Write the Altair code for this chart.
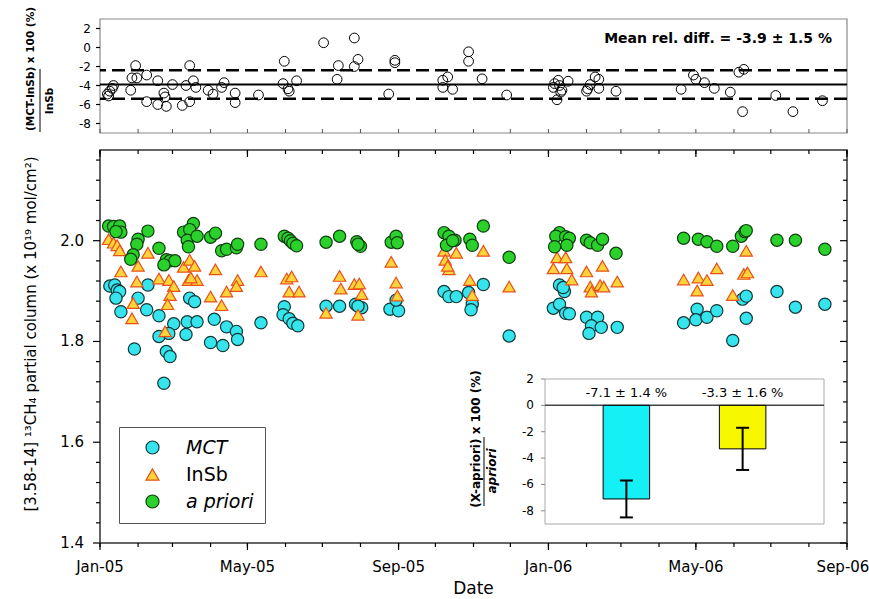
import altair as alt
import pandas as pd

FONT = "DejaVu Sans"

# ---------------- data ----------------
series_names = ["MCT", "InSb", "a priori"]
series_fill = ["#35E4EC", "#FFD43B", "#2BD12B"]
series_stroke = ["#123838", "#E8501A", "#0F3F0F"]
series_shape = ["circle", "triangle-up", "circle"]

mct_dates = ["2005-01-09", "2005-01-13", "2005-01-15", "2005-01-17", "2005-01-14", "2005-01-18",
             "2005-02-01", "2005-01-29", "2005-02-09", "2005-02-08", "2005-02-18", "2005-02-18",
             "2005-03-02", "2005-02-26", "2005-02-24", "2005-02-27", "2005-02-22", "2005-03-13",
             "2005-03-15", "2005-03-19", "2005-03-21", "2005-03-12", "2005-04-04", "2005-04-14",
             "2005-04-22", "2005-04-23", "2005-04-01", "2005-04-11", "2005-05-12", "2005-05-31",
             "2005-05-30", "2005-06-04", "2005-06-07", "2005-06-11", "2005-07-04", "2005-07-15",
             "2005-07-28", "2005-08-02", "2005-07-30", "2005-08-25", "2005-09-01", "2005-08-30",
             "2005-10-08", "2005-10-12", "2005-10-18", "2005-10-28", "2005-10-31", "2005-10-30",
             "2005-11-09", "2005-11-30", "2006-01-10", "2006-01-14", "2006-01-13", "2006-01-05",
             "2006-01-10", "2006-01-15", "2006-01-18", "2006-02-01", "2006-02-10", "2006-02-05",
             "2006-02-13", "2006-02-03", "2006-02-26", "2006-04-21", "2006-05-02", "2006-05-01",
             "2006-05-10", "2006-05-18", "2006-05-31", "2006-06-08", "2006-06-11", "2006-06-11",
             "2006-07-06", "2006-07-21", "2006-08-14"]
mct_values = [1.910, 1.912, 1.902, 1.899, 1.886, 1.859,
              1.886, 1.785, 1.912, 1.863, 1.851, 1.810,
              1.835, 1.816, 1.780, 1.770, 1.717, 1.839,
              1.886, 1.879, 1.839, 1.814, 1.844, 1.829,
              1.820, 1.804, 1.798, 1.792, 1.837, 1.869,
              1.853, 1.845, 1.836, 1.831, 1.870, 1.870,
              1.874, 1.867, 1.870, 1.864, 1.861, 1.882,
              1.899, 1.889, 1.889, 1.897, 1.874, 1.863,
              1.913, 1.811, 1.912, 1.899, 1.907, 1.866,
              1.874, 1.856, 1.855, 1.848, 1.848, 1.831,
              1.828, 1.816, 1.828, 1.837, 1.864, 1.843,
              1.848, 1.861, 1.802, 1.884, 1.890, 1.846,
              1.899, 1.868, 1.874]

insb_dates = ["2005-01-08", "2005-01-12", "2005-01-15", "2005-01-17", "2005-01-18", "2005-02-01",
              "2005-01-31", "2005-02-09", "2005-01-28", "2005-01-27", "2005-02-18", "2005-02-26",
              "2005-03-02", "2005-02-27", "2005-02-25", "2005-02-23", "2005-03-10", "2005-03-15",
              "2005-03-19", "2005-03-14", "2005-03-21", "2005-03-16", "2005-04-05", "2005-04-01",
              "2005-04-10", "2005-04-14", "2005-04-23", "2005-04-22", "2005-05-12", "2005-06-02",
              "2005-06-06", "2005-06-04", "2005-06-12", "2005-07-15", "2005-07-16", "2005-07-27",
              "2005-07-31", "2005-08-02", "2005-07-04", "2005-07-30", "2005-08-26", "2005-08-30",
              "2005-08-31", "2005-10-08", "2005-10-18", "2005-10-09", "2005-10-12", "2005-10-11",
              "2005-10-29", "2005-10-31", "2005-11-09", "2005-11-30", "2006-01-08", "2006-01-15",
              "2006-01-05", "2006-01-16", "2006-01-20", "2006-02-01", "2006-02-14", "2006-02-04",
              "2006-02-05", "2006-02-12", "2006-02-15", "2006-02-26", "2006-04-21", "2006-05-03",
              "2006-05-10", "2006-05-18", "2006-05-02", "2006-05-31", "2006-06-11", "2006-06-09",
              "2006-06-12"]
insb_values = [2.003, 1.996, 1.991, 1.981, 1.939, 1.950,
               1.919, 1.976, 1.876, 1.846, 1.925, 1.922,
               1.910, 1.892, 1.874, 1.820, 1.948, 1.962,
               1.950, 1.922, 1.922, 1.927, 1.943, 1.889,
               1.872, 1.899, 1.922, 1.910, 1.939, 1.925,
               1.929, 1.899, 1.899, 1.930, 1.905, 1.914,
               1.915, 1.894, 1.857, 1.853, 1.958, 1.917,
               1.891, 1.980, 1.976, 1.962, 1.943, 1.950,
               1.922, 1.892, 1.980, 1.909, 1.967, 1.967,
               1.945, 1.945, 1.923, 1.939, 1.950, 1.909,
               1.899, 1.912, 1.909, 1.919, 1.923, 1.927,
               1.922, 1.945, 1.901, 1.892, 1.980, 1.934,
               1.937]

apriori_dates = ["2005-01-08", "2005-01-12", "2005-01-17", "2005-01-18", "2005-01-14", "2005-02-01",
                 "2005-01-31", "2005-01-28", "2005-01-26", "2005-02-09", "2005-02-18", "2005-02-24",
                 "2005-02-27", "2005-03-03", "2005-02-22", "2005-03-10", "2005-03-18", "2005-03-15",
                 "2005-03-13", "2005-03-14", "2005-03-21", "2005-04-01", "2005-04-05", "2005-04-10",
                 "2005-04-14", "2005-04-22", "2005-04-23", "2005-05-12", "2005-05-31", "2005-06-03",
                 "2005-06-05", "2005-06-07", "2005-06-10", "2005-07-04", "2005-07-15", "2005-07-29",
                 "2005-08-01", "2005-07-30", "2005-08-26", "2005-08-30", "2005-08-31", "2005-10-08",
                 "2005-10-12", "2005-10-17", "2005-10-10", "2005-10-15", "2005-10-29", "2005-10-31",
                 "2005-11-09", "2005-11-30", "2006-01-10", "2006-01-07", "2006-01-15", "2006-01-18",
                 "2006-01-06", "2006-01-16", "2006-02-01", "2006-02-04", "2006-02-10", "2006-02-14",
                 "2006-02-25", "2006-04-21", "2006-05-03", "2006-05-10", "2006-05-18", "2006-05-31",
                 "2006-06-07", "2006-06-10", "2006-06-11", "2006-07-06", "2006-07-21", "2006-08-14"]
apriori_values = [2.029, 2.028, 2.029, 2.017, 2.018, 2.003,
                  1.993, 1.972, 1.963, 2.019, 1.985, 1.962,
                  1.960, 1.960, 1.952, 2.017, 2.034, 2.022,
                  2.001, 1.988, 2.009, 2.007, 2.015, 1.980,
                  1.983, 1.986, 1.993, 1.993, 2.009, 2.005,
                  2.000, 1.995, 1.990, 1.997, 2.009, 1.998,
                  1.989, 1.993, 1.997, 2.009, 1.996, 2.016,
                  2.009, 2.001, 1.991, 2.000, 2.003, 1.991,
                  2.029, 1.967, 2.016, 2.009, 2.008, 2.005,
                  1.988, 1.991, 2.001, 1.996, 1.991, 2.003,
                  1.975, 2.005, 2.003, 1.998, 1.989, 1.989,
                  2.009, 2.018, 2.020, 2.001, 2.001, 1.983]

rel_dates = ["2005-01-07", "2005-01-08", "2005-01-09", "2005-01-11", "2005-01-12", "2005-01-26",
             "2005-01-27", "2005-01-30", "2005-01-31", "2005-02-08", "2005-02-08", "2005-02-17",
             "2005-02-17", "2005-02-22", "2005-02-23", "2005-02-24", "2005-03-01", "2005-03-09",
             "2005-03-12", "2005-03-15", "2005-03-15", "2005-03-18", "2005-03-20", "2005-03-30",
             "2005-04-03", "2005-04-10", "2005-04-12", "2005-04-21", "2005-04-21", "2005-05-10",
             "2005-05-30", "2005-05-31", "2005-06-03", "2005-06-04", "2005-06-10", "2005-07-02",
             "2005-07-13", "2005-07-14", "2005-07-27", "2005-07-27", "2005-07-30", "2005-08-24",
             "2005-08-29", "2005-08-29", "2005-10-07", "2005-10-07", "2005-10-11", "2005-10-15",
             "2005-10-28", "2005-10-28", "2005-11-08", "2005-11-28", "2006-01-05", "2006-01-06",
             "2006-01-09", "2006-01-10", "2006-01-08", "2006-01-11", "2006-01-12", "2006-01-17",
             "2006-02-01", "2006-02-02", "2006-02-04", "2006-02-08", "2006-02-11", "2006-02-11",
             "2006-02-25", "2006-04-19", "2006-04-29", "2006-05-01", "2006-05-08", "2006-05-16",
             "2006-05-29", "2006-06-05", "2006-06-09", "2006-06-08", "2006-07-05", "2006-07-19",
             "2006-08-12"]
rel_values = [-4.9, -5.1, -4.6, -4.3, -4.0, -4.5,
              -3.2, -1.9, -3.2, -2.9, -5.7, -3.5,
              -6.0, -4.8, -5.2, -6.2, -3.9, -6.1,
              -4.0, -1.9, -5.7, -3.5, -4.2, -4.5,
              -4.9, -4.2, -3.7, -4.8, -5.8, -5.0,
              -3.8, -1.45, -4.35, -4.6, -3.5, 0.5,
              -3.35, -1.9, 1.0, -2.0, -1.25, -4.9,
              -1.35, -1.6, -4.2, -3.45, -3.1, -4.4,
              -0.45, -1.45, -3.3, -5.0, -4.2, -3.8,
              -3.45, -4.0, -5.5, -4.7, -4.5, -3.55,
              -4.6, -4.35, -3.9, -3.1, -3.35, -4.3,
              -4.6, -4.4, -2.9, -3.35, -3.7, -4.3,
              -4.7, -2.6, -2.3, -6.75, -5.05, -6.75,
              -5.6]
mean_rel_diff = -3.9
std_rel_diff = 1.5

inset_cats = ["MCT", "InSb"]
inset_means = [-7.1, -3.3]
inset_errs = [1.4, 1.6]
inset_colors = ["#14F0F5", "#F7F700"]

x_label_dates = [(2005, 1), (2005, 5), (2005, 9), (2006, 1), (2006, 5), (2006, 9)]
y_major_ticks = [1.4, 1.6, 1.8, 2.0]
y_minor_ticks = [1.44, 1.48, 1.52, 1.56, 1.64, 1.68, 1.72, 1.76,
                 1.84, 1.88, 1.92, 1.96, 2.04, 2.08, 2.12, 2.16]
rel_ticks = [-8, -6, -4, -2, 0, 2]
inset_ticks = [-8, -6, -4, -2, 0, 2]

# ---------------- layout (pixels inside the plot area) ----------------
W, H = 747, 524
MAIN_TOP, MAIN_BOT = 131, 524
TOP_TOP, TOP_BOT = 0, 114
IN_L, IN_R, IN_T, IN_B = 445, 724, 360, 505

# ---------------- tables ----------------
main_df = pd.concat([
    pd.DataFrame({"date": pd.to_datetime(mct_dates), "value": mct_values, "series": "MCT"}),
    pd.DataFrame({"date": pd.to_datetime(insb_dates), "value": insb_values, "series": "InSb"}),
    pd.DataFrame({"date": pd.to_datetime(apriori_dates), "value": apriori_values, "series": "a priori"}),
], ignore_index=True)
rel_df = pd.DataFrame({"date": pd.to_datetime(rel_dates), "rel": rel_values})
inset_df = pd.DataFrame({"cat": inset_cats, "mean": inset_means, "err": inset_errs})
inset_df["lo"] = inset_df["mean"] - inset_df["err"]
inset_df["hi"] = inset_df["mean"] + inset_df["err"]
inset_df["label"] = [f"{m:.1f} \u00b1 {e:.1f} %" for m, e in zip(inset_means, inset_errs)]

months_df = pd.DataFrame({"d": pd.date_range("2005-01-01", "2006-09-01", freq="MS")})
majors_df = pd.DataFrame({"d": [pd.Timestamp(year=y, month=m, day=1) for y, m in x_label_dates]})
yminor_df = pd.DataFrame({"v": y_minor_ticks})
ymajor_df = pd.DataFrame({"v": y_major_ticks})
rtick_df = pd.DataFrame({"v": rel_ticks, "lab": [str(v) for v in rel_ticks]})
itick_df = pd.DataFrame({"v": inset_ticks, "lab": [str(v) for v in inset_ticks]})
one = pd.DataFrame({"k": [0]})

x_dom = [alt.DateTime(year=2005, month=1, date=1), alt.DateTime(year=2006, month=9, date=1)]
xscale = alt.Scale(domain=x_dom, range=[0, W], nice=False)
yscale = alt.Scale(domain=[1.4, 2.18], range=[MAIN_BOT, MAIN_TOP], nice=False, zero=False)
rscale = alt.Scale(domain=[-9, 3], range=[TOP_BOT, TOP_TOP], nice=False, zero=False)
iyscale = alt.Scale(domain=[-9, 2], range=[IN_B, IN_T], nice=False, zero=False)
ixscale = alt.Scale(domain=inset_cats, range=[IN_L, IN_R], paddingInner=0.6, paddingOuter=0.5)


def X(field):
    return alt.X(field, scale=xscale, axis=None)


def Y(field):
    return alt.Y(field, scale=yscale, axis=None)


def R(field):
    return alt.Y(field, scale=rscale, axis=None)


def IY(field):
    return alt.Y(field, scale=iyscale, axis=None)


def IX(field):
    return alt.X(field, scale=ixscale, axis=None)


def rot_text(txt, x, y, size, weight="bold", style="normal"):
    return alt.Chart(pd.DataFrame({"t": [txt]})).mark_text(
        angle=270, fontSize=size, font=FONT, fontWeight=weight, fontStyle=style,
        align="center", baseline="middle", color="black").encode(
        text="t:N", x=alt.value(x), y=alt.value(y))


def rule(df, **enc):
    return alt.Chart(df).mark_rule(color="black", strokeWidth=1.2).encode(**enc)


# ---------------- main panel ----------------
main_frame = alt.Chart(one).mark_rect(fillOpacity=0, stroke="#333333", strokeWidth=1.5).encode(
    x=alt.value(0), x2=alt.value(W), y=alt.value(MAIN_TOP), y2=alt.value(MAIN_BOT))

leg = alt.Legend(orient="none", legendX=19, legendY=408, title=None, fillColor="white",
                 strokeColor="#555555", padding=11, symbolSize=170, symbolStrokeWidth=1.2,
                 labelFontSize=19, labelFont=FONT, labelOffset=24, rowPadding=7, symbolOffset=13,
                 labelFontStyle=alt.ExprRef(expr="datum.label == 'InSb' ? 'normal' : 'italic'"))

points = alt.Chart(main_df).mark_point(filled=True, opacity=1, size=150, strokeWidth=1.2).encode(
    x=X("date:T"),
    y=Y("value:Q"),
    fill=alt.Fill("series:N", scale=alt.Scale(domain=series_names, range=series_fill), legend=leg),
    stroke=alt.Stroke("series:N", scale=alt.Scale(domain=series_names, range=series_stroke), legend=leg),
    shape=alt.Shape("series:N", scale=alt.Scale(domain=series_names, range=series_shape), legend=leg),
)

bx_minor = rule(months_df, x=X("d:T"), y=alt.value(MAIN_BOT), y2=alt.value(MAIN_BOT + 4))
bx_major = rule(majors_df, x=X("d:T"), y=alt.value(MAIN_BOT), y2=alt.value(MAIN_BOT + 7))
tx_minor = rule(months_df, x=X("d:T"), y=alt.value(MAIN_TOP), y2=alt.value(MAIN_TOP + 4))
tx_major = rule(majors_df, x=X("d:T"), y=alt.value(MAIN_TOP), y2=alt.value(MAIN_TOP + 7))
ly_minor = rule(yminor_df, y=Y("v:Q"), x=alt.value(-4), x2=alt.value(0))
ly_major = rule(ymajor_df, y=Y("v:Q"), x=alt.value(-7), x2=alt.value(0))
ry_minor = rule(yminor_df, y=Y("v:Q"), x=alt.value(W - 4), x2=alt.value(W))
ry_major = rule(ymajor_df, y=Y("v:Q"), x=alt.value(W - 7), x2=alt.value(W))

x_labels = alt.Chart(majors_df.iloc[:-1]).mark_text(fontSize=15, font=FONT, color="black",
                                                    baseline="middle", align="center").encode(
    x=X("d:T"), y=alt.value(MAIN_BOT + 24), text=alt.Text("d:T", format="%b-%y"))
x_label_last = alt.Chart(majors_df.iloc[-1:]).mark_text(fontSize=15, font=FONT, color="black",
                                                        baseline="middle", align="center",
                                                        dx=-4).encode(
    x=X("d:T"), y=alt.value(MAIN_BOT + 24), text=alt.Text("d:T", format="%b-%y"))
y_labels = alt.Chart(ymajor_df).mark_text(fontSize=15, font=FONT, color="black",
                                          baseline="middle", align="right").encode(
    y=Y("v:Q"), x=alt.value(-16), text=alt.Text("v:Q", format=".1f"))
x_title = alt.Chart(pd.DataFrame({"t": ["Date"]})).mark_text(
    fontSize=17, font=FONT, color="black", baseline="middle", align="center").encode(
    text="t:N", x=alt.value(W / 2), y=alt.value(MAIN_BOT + 46))

main_title = rot_text("[3.58-14]    \u00b9\u00b3CH\u2084 partial column (x 10\u00b9\u2079 mol/cm\u00b2)",
                      -69, 315, 15, weight="normal")

main_group = alt.layer(main_frame, bx_minor, bx_major, tx_minor, tx_major, ly_minor, ly_major,
                       ry_minor, ry_major, points, x_labels, x_label_last, y_labels, x_title,
                       main_title)

# ---------------- top panel ----------------
top_frame = alt.Chart(one).mark_rect(fillOpacity=0, stroke="#888888", strokeWidth=1.2).encode(
    x=alt.value(0), x2=alt.value(W), y=alt.value(TOP_TOP), y2=alt.value(TOP_BOT))
mean_df = pd.DataFrame({"y": [mean_rel_diff]})
sd_df = pd.DataFrame({"y": [mean_rel_diff - std_rel_diff, mean_rel_diff + std_rel_diff]})
mean_rule = alt.Chart(mean_df).mark_rule(color="black", strokeWidth=2).encode(y=R("y:Q"))
sd_rule = alt.Chart(sd_df).mark_rule(color="black", strokeWidth=2.5, strokeDash=[13, 6]).encode(
    y=R("y:Q"))
rel_pts = alt.Chart(rel_df).mark_point(shape="circle", filled=False, color="black", size=95,
                                       strokeWidth=1, opacity=1).encode(
    x=X("date:T"), y=R("rel:Q"))
top_ticks = alt.Chart(months_df).mark_rule(color="#555555", strokeWidth=1).encode(
    x=X("d:T"), y=alt.value(TOP_BOT - 4), y2=alt.value(TOP_BOT))
top_yticks = rule(rtick_df, y=R("v:Q"), x=alt.value(-4), x2=alt.value(0))
top_ylabels = alt.Chart(rtick_df).mark_text(fontSize=12, font=FONT, color="black",
                                            baseline="middle", align="right").encode(
    y=R("v:Q"), x=alt.value(-9), text="lab:N")
mean_text = alt.Chart(pd.DataFrame({"t": [f"Mean rel. diff. = {mean_rel_diff} \u00b1 {std_rel_diff} %"]})).mark_text(
    align="right", baseline="middle", fontSize=14, fontWeight="bold", font=FONT, color="black").encode(
    text="t:N", x=alt.value(732), y=alt.value(20))
top_title = rot_text("(MCT-InSb) x 100 (%)", -69, 50, 10.5)
top_den = rot_text("InSb", -50, 82, 10.5)
top_bar = alt.Chart(one).mark_rule(color="black", strokeWidth=1).encode(
    x=alt.value(-60), y=alt.value(50), y2=alt.value(113))

top_group = alt.layer(top_frame, mean_rule, sd_rule, top_ticks, top_yticks, rel_pts,
                      top_ylabels, mean_text, top_title, top_den, top_bar)

# ---------------- inset ----------------
in_frame = alt.Chart(one).mark_rect(fill="white", stroke="#AAAAAA", strokeWidth=1).encode(
    x=alt.value(IN_L), x2=alt.value(IN_R), y=alt.value(IN_T), y2=alt.value(IN_B))
zero_df = pd.DataFrame({"y": [0]})
in_zero = alt.Chart(zero_df).mark_rule(color="#444444", strokeWidth=1.5).encode(
    y=IY("y:Q"), x=alt.value(IN_L), x2=alt.value(IN_R))
in_bars = alt.Chart(inset_df).mark_bar(stroke="black", strokeWidth=1, opacity=1).encode(
    x=IX("cat:N"), y=IY("mean:Q"),
    color=alt.Color("cat:N", scale=alt.Scale(domain=inset_cats, range=inset_colors), legend=None))
in_err = alt.Chart(inset_df).mark_rule(color="black", strokeWidth=2).encode(
    x=IX("cat:N"), y=IY("lo:Q"), y2="hi:Q")
in_cap_lo = alt.Chart(inset_df).mark_tick(color="black", size=13, thickness=2, opacity=1).encode(
    x=IX("cat:N"), y=IY("lo:Q"))
in_cap_hi = alt.Chart(inset_df).mark_tick(color="black", size=13, thickness=2, opacity=1).encode(
    x=IX("cat:N"), y=IY("hi:Q"))
in_labels = alt.Chart(inset_df).mark_text(fontSize=13, font=FONT, color="black",
                                          baseline="middle").encode(
    x=IX("cat:N"), y=alt.value(IN_T + 14), text="label:N")
in_yticks = alt.Chart(itick_df).mark_rule(color="#888888", strokeWidth=1).encode(
    y=IY("v:Q"), x=alt.value(IN_L - 4), x2=alt.value(IN_L))
in_ylabels = alt.Chart(itick_df).mark_text(fontSize=12, font=FONT, color="black",
                                           baseline="middle", align="right").encode(
    y=IY("v:Q"), x=alt.value(IN_L - 11), text="lab:N")
in_title = rot_text("(X-apriori) x 100 (%)", 376, 420, 12)
in_den = rot_text("apriori", 392, 452, 12, style="italic")
in_bar = alt.Chart(one).mark_rule(color="black", strokeWidth=1).encode(
    x=alt.value(384), y=alt.value(418), y2=alt.value(487))

inset_group = alt.layer(in_frame, in_zero, in_bars, in_err, in_cap_lo, in_cap_hi, in_labels,
                        in_yticks, in_ylabels, in_title, in_den, in_bar)

chart = alt.layer(main_group, top_group, inset_group).resolve_scale(
    x="independent", y="independent", color="independent", fill="independent",
    stroke="independent", shape="independent"
).properties(
    width=W, height=H,
    padding={"left": 100, "top": 19, "right": 22, "bottom": 56},
    autosize=alt.AutoSizeParams(type="none"),
    background="white",
).configure_view(stroke=None)

chart.save("out.html", embed_options={"renderer": "svg", "actions": False})
